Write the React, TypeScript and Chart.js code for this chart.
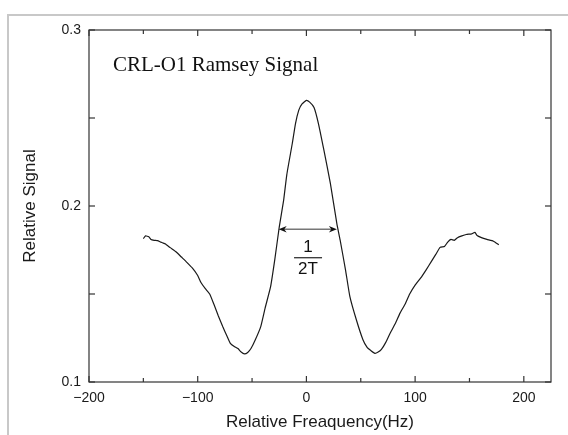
import React, { useEffect, useRef } from "react";
import { Chart, registerables } from "chart.js";

Chart.register(...registerables);

// ---- data ----
const freqHz = [
  -150, -148, -145, -143, -140, -137, -134, -132, -130, -125, -120, -115, -110, -105, -100,
  -97, -93, -89, -85, -81, -77, -73, -70, -66, -63, -60, -57, -54, -51, -47, -42, -38, -33,
  -29, -25, -21, -18, -13, -10, -7, -4, 0, 3, 7, 11, 16, 22, 28, 31, 36, 40, 46, 52, 56, 59,
  63, 66, 69, 73, 77, 82, 86, 91, 95, 100, 105, 110, 115, 119, 123, 127, 130, 133, 136, 139,
  143, 147, 152, 155, 157, 161, 166, 172, 177,
];
const signal = [
  0.1815, 0.183, 0.1825, 0.181, 0.1805, 0.1803, 0.1795, 0.179, 0.1785, 0.1762, 0.174, 0.171,
  0.168, 0.1648, 0.1605, 0.1565, 0.153, 0.15, 0.144, 0.1375, 0.1315, 0.126, 0.122, 0.12, 0.119,
  0.117, 0.116, 0.1168, 0.119, 0.124, 0.1315, 0.142, 0.154, 0.17, 0.188, 0.203, 0.218, 0.2355,
  0.247, 0.2545, 0.258, 0.26, 0.259, 0.256, 0.247, 0.232, 0.213, 0.19, 0.1807, 0.1636, 0.1485,
  0.1352, 0.124, 0.1195, 0.118, 0.1163, 0.117, 0.1185, 0.1225, 0.1277, 0.1335, 0.139, 0.1445,
  0.15, 0.155, 0.159, 0.1636, 0.1685, 0.1725, 0.1765, 0.177, 0.1795, 0.181, 0.1805, 0.182,
  0.183, 0.1838, 0.1842, 0.185, 0.1832, 0.182, 0.181, 0.18, 0.178,
];

const xRange = [-200, 225];
const yRange = [0.1, 0.3];
const xTickValues = [-200, -100, 0, 100, 200];
const xTickLabels = ["\u2212200", "\u2212100", "0", "100", "200"];
const xMinorTicks = [-150, -50, 50, 150];
const yTickValues = [0.1, 0.2, 0.3];
const yTickLabels = ["0.1", "0.2", "0.3"];
const yMinorTicks = [0.15, 0.25];

const chartTitle = "CRL-O1 Ramsey Signal";
const xTitle = "Relative Freaquency(Hz)";
const yTitle = "Relative Signal";

// annotation: width marker 1/2T
const arrowFrom = -25.5;
const arrowTo = 28;
const arrowLevel = 0.1868;
const fracTop = "1";
const fracBottom = "2T";
const fracX = 1.5;
const titleAnchor = { x: -178, y: 0.28 };

const SANS = '"Liberation Sans", Arial, sans-serif';
const SERIF = '"Liberation Serif", "Times New Roman", serif';
const INK = "#1a1a1a";

const decorPlugin = {
  id: "decor",
  afterDraw(chart: any) {
    const { ctx, chartArea: a } = chart;
    const xs = chart.scales.x;
    const ys = chart.scales.y;
    ctx.save();
    // frame
    ctx.strokeStyle = "#333";
    ctx.lineWidth = 1.2;
    ctx.strokeRect(a.left, a.top, a.right - a.left, a.bottom - a.top);
    // inward ticks
    const line = (x1: number, y1: number, x2: number, y2: number) => {
      ctx.beginPath();
      ctx.moveTo(x1, y1);
      ctx.lineTo(x2, y2);
      ctx.stroke();
    };
    const xt = (vals: number[], len: number) =>
      vals.forEach((v) => {
        const p = xs.getPixelForValue(v);
        line(p, a.bottom, p, a.bottom - len);
        line(p, a.top, p, a.top + len);
      });
    const yt = (vals: number[], len: number) =>
      vals.forEach((v) => {
        const p = ys.getPixelForValue(v);
        line(a.left, p, a.left + len, p);
        line(a.right, p, a.right - len, p);
      });
    xt(xTickValues, 6);
    xt(xMinorTicks, 4);
    yt(yTickValues, 6);
    yt(yMinorTicks, 6);

    // title text
    ctx.fillStyle = "#111";
    ctx.font = `21px ${SERIF}`;
    ctx.textAlign = "left";
    ctx.textBaseline = "middle";
    ctx.fillText(chartTitle, xs.getPixelForValue(titleAnchor.x), ys.getPixelForValue(titleAnchor.y));

    // arrow
    const ay = ys.getPixelForValue(arrowLevel);
    const ax1 = xs.getPixelForValue(arrowFrom);
    const ax2 = xs.getPixelForValue(arrowTo);
    ctx.strokeStyle = "#777";
    ctx.lineWidth = 1.5;
    line(ax1 + 4, ay, ax2 - 4, ay);
    ctx.fillStyle = "#111";
    const head = (tip: number, dir: number) => {
      ctx.beginPath();
      ctx.moveTo(tip, ay);
      ctx.lineTo(tip + dir * 8, ay - 3.2);
      ctx.lineTo(tip + dir * 5.5, ay);
      ctx.lineTo(tip + dir * 8, ay + 3.2);
      ctx.closePath();
      ctx.fill();
    };
    head(ax1, 1);
    head(ax2, -1);

    // fraction 1/2T
    const fx = xs.getPixelForValue(fracX);
    ctx.font = `17px ${SANS}`;
    ctx.textAlign = "center";
    ctx.fillStyle = "#111";
    ctx.fillText(fracTop, fx, ay + 18);
    ctx.strokeStyle = "#222";
    ctx.lineWidth = 1.2;
    line(fx - 14, ay + 28.5, fx + 14, ay + 28.5);
    ctx.fillText(fracBottom, fx, ay + 40);
    ctx.restore();
  },
};

export default function App() {
  const ref = useRef<HTMLCanvasElement | null>(null);
  useEffect(() => {
    if (!ref.current) return;
    const chart = new Chart(ref.current, {
      type: "line",
      data: {
        datasets: [
          {
            data: freqHz.map((f, i) => ({ x: f, y: signal[i] })),
            borderColor: "#1a1a1a",
            borderWidth: 1.2,
            pointRadius: 0,
            tension: 0.15,
            fill: false,
          },
        ],
      },
      options: {
        responsive: false,
        animation: false,
        layout: { padding: { top: 30, right: 17, left: 0, bottom: 0 } },
        plugins: { legend: { display: false }, tooltip: { enabled: false } },
        scales: {
          x: {
            type: "linear",
            min: xRange[0],
            max: xRange[1],
            afterBuildTicks: (s: any) => {
              s.ticks = xTickValues.map((v) => ({ value: v }));
            },
            afterFit: (s: any) => {
              s.height = 53;
            },
            ticks: {
              autoSkip: false,
              maxRotation: 0,
              padding: 8,
              color: INK,
              font: { size: 14, family: SANS },
              callback: (_v: any, i: number) => xTickLabels[i],
            },
            grid: { display: false, drawTicks: false },
            border: { display: false },
            title: {
              display: true,
              text: xTitle,
              color: INK,
              font: { size: 17, family: SANS },
              padding: { top: 0, bottom: 2 },
            },
          },
          y: {
            type: "linear",
            min: yRange[0],
            max: yRange[1],
            afterBuildTicks: (s: any) => {
              s.ticks = yTickValues.map((v) => ({ value: v }));
            },
            afterFit: (s: any) => {
              s.width = 89;
            },
            ticks: {
              autoSkip: false,
              padding: 8,
              color: INK,
              font: { size: 14, family: SANS },
              callback: (_v: any, i: number) => yTickLabels[i],
            },
            grid: { display: false, drawTicks: false },
            border: { display: false },
            title: {
              display: true,
              text: yTitle,
              color: INK,
              font: { size: 17, family: SANS },
              padding: { top: 20, bottom: 0 },
            },
          },
        },
      },
      plugins: [decorPlugin],
    } as any);
    return () => chart.destroy();
  }, []);

  return (
    <div style={{ position: "fixed", left: 0, top: 0, width: 568, height: 435, background: "#fff" }}>
      <div
        style={{
          position: "absolute",
          left: 7,
          top: 14,
          right: 0,
          bottom: 0,
          borderTop: "2px solid #c8c8c8",
          borderLeft: "2px solid #c8c8c8",
        }}
      />
      <canvas ref={ref} width={568} height={435} style={{ position: "absolute", left: 0, top: 0 }} />
    </div>
  );
}
